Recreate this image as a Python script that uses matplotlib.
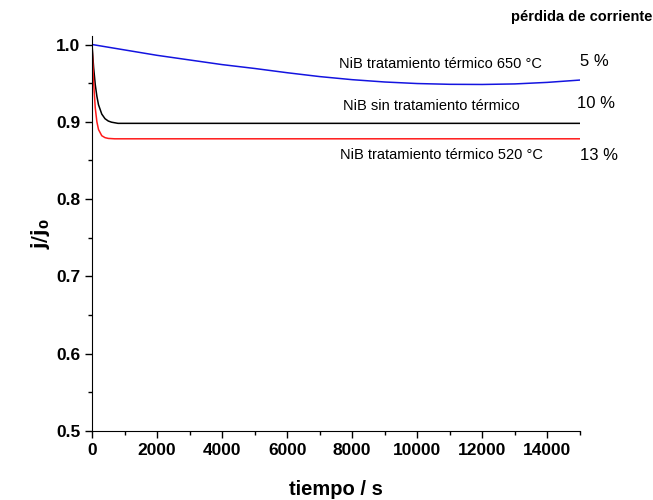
import matplotlib.pyplot as plt
from matplotlib.ticker import MultipleLocator

plt.rcParams["font.family"] = ["Liberation Sans", "DejaVu Sans"]

# values
t_650 = [0, 500, 1000, 1500, 2000, 2500, 3000, 4000, 5000, 6000, 7000, 8000,
         9000, 10000, 11000, 12000, 13000, 14000, 15000]
j_650 = [1.0, 0.9965, 0.993, 0.9895, 0.986, 0.983, 0.980, 0.974, 0.969, 0.9635, 0.9585, 0.9545,
         0.9515, 0.9495, 0.9485, 0.9483, 0.949, 0.951, 0.954]

t_sin = [0, 50, 100, 150, 200, 300, 400, 500, 600, 800, 1000, 15000]
j_sin = [1.0, 0.970, 0.948, 0.933, 0.922, 0.910, 0.904, 0.901, 0.8995, 0.898, 0.898, 0.898]

t_520 = [0, 50, 100, 150, 200, 300, 400, 500, 700, 1000, 15000]
j_520 = [1.0, 0.950, 0.918, 0.900, 0.890, 0.882, 0.8795, 0.8785, 0.878, 0.878, 0.878]

labels = ["NiB tratamiento térmico 650 °C", "NiB sin tratamiento térmico", "NiB tratamiento térmico 520 °C"]
losses = ["5 %", "10 %", "13 %"]

fig = plt.figure(figsize=(6.53, 5.0), dpi=100)
ax = fig.add_axes([0.1409, 0.138, 0.888 - 0.1409, 0.928 - 0.138])

ax.plot(t_650, j_650, color="#1414e0", lw=1.1)
ax.plot(t_sin, j_sin, color="black", lw=1.1)
ax.plot(t_520, j_520, color="#ff1a1a", lw=1.1)

ax.set_xlim(0, 15000)
ax.set_ylim(0.5, 1.011)
ax.xaxis.set_major_locator(MultipleLocator(2000))
ax.xaxis.set_minor_locator(MultipleLocator(1000))
ax.yaxis.set_major_locator(MultipleLocator(0.1))
ax.yaxis.set_minor_locator(MultipleLocator(0.05))
ax.tick_params(which="major", direction="out", length=5, width=1, labelsize=12.5)
ax.tick_params(which="minor", direction="out", length=3, width=1)
for lab in ax.get_xticklabels():
    lab.set_fontweight("bold")
ax.set_yticks([0.5, 0.6, 0.7, 0.8, 0.9, 1.0])
ax.set_yticklabels(["0.5", "0.6", "0.7", "0.8", "0.9", "1.0"], fontweight="bold")
ax.spines["top"].set_visible(False)
ax.spines["right"].set_visible(False)

ax.set_xlabel("tiempo / s", fontsize=14.5, fontweight="bold", labelpad=16)
ax.set_ylabel(r"$\mathbf{j/j_0}$", fontsize=13.5, labelpad=3)

# labels next to curves (figure pixel positions / size)
W, H = 653.0, 500.0
pos_lab = [(339, 64), (343, 106), (340, 155)]
pos_pct = [(580, 61), (577, 104), (580, 155)]
for (x, y), s in zip(pos_lab, labels):
    fig.text(x / W, 1 - y / H, s, fontsize=10.5, ha="left", va="center")
for (x, y), s in zip(pos_pct, losses):
    fig.text(x / W, 1 - y / H, s, fontsize=12, ha="left", va="center")
fig.text(511 / W, 1 - 17 / H, "pérdida de corriente", fontsize=10.5, fontweight="bold", ha="left", va="center")

fig.savefig("out.png", dpi=100)
